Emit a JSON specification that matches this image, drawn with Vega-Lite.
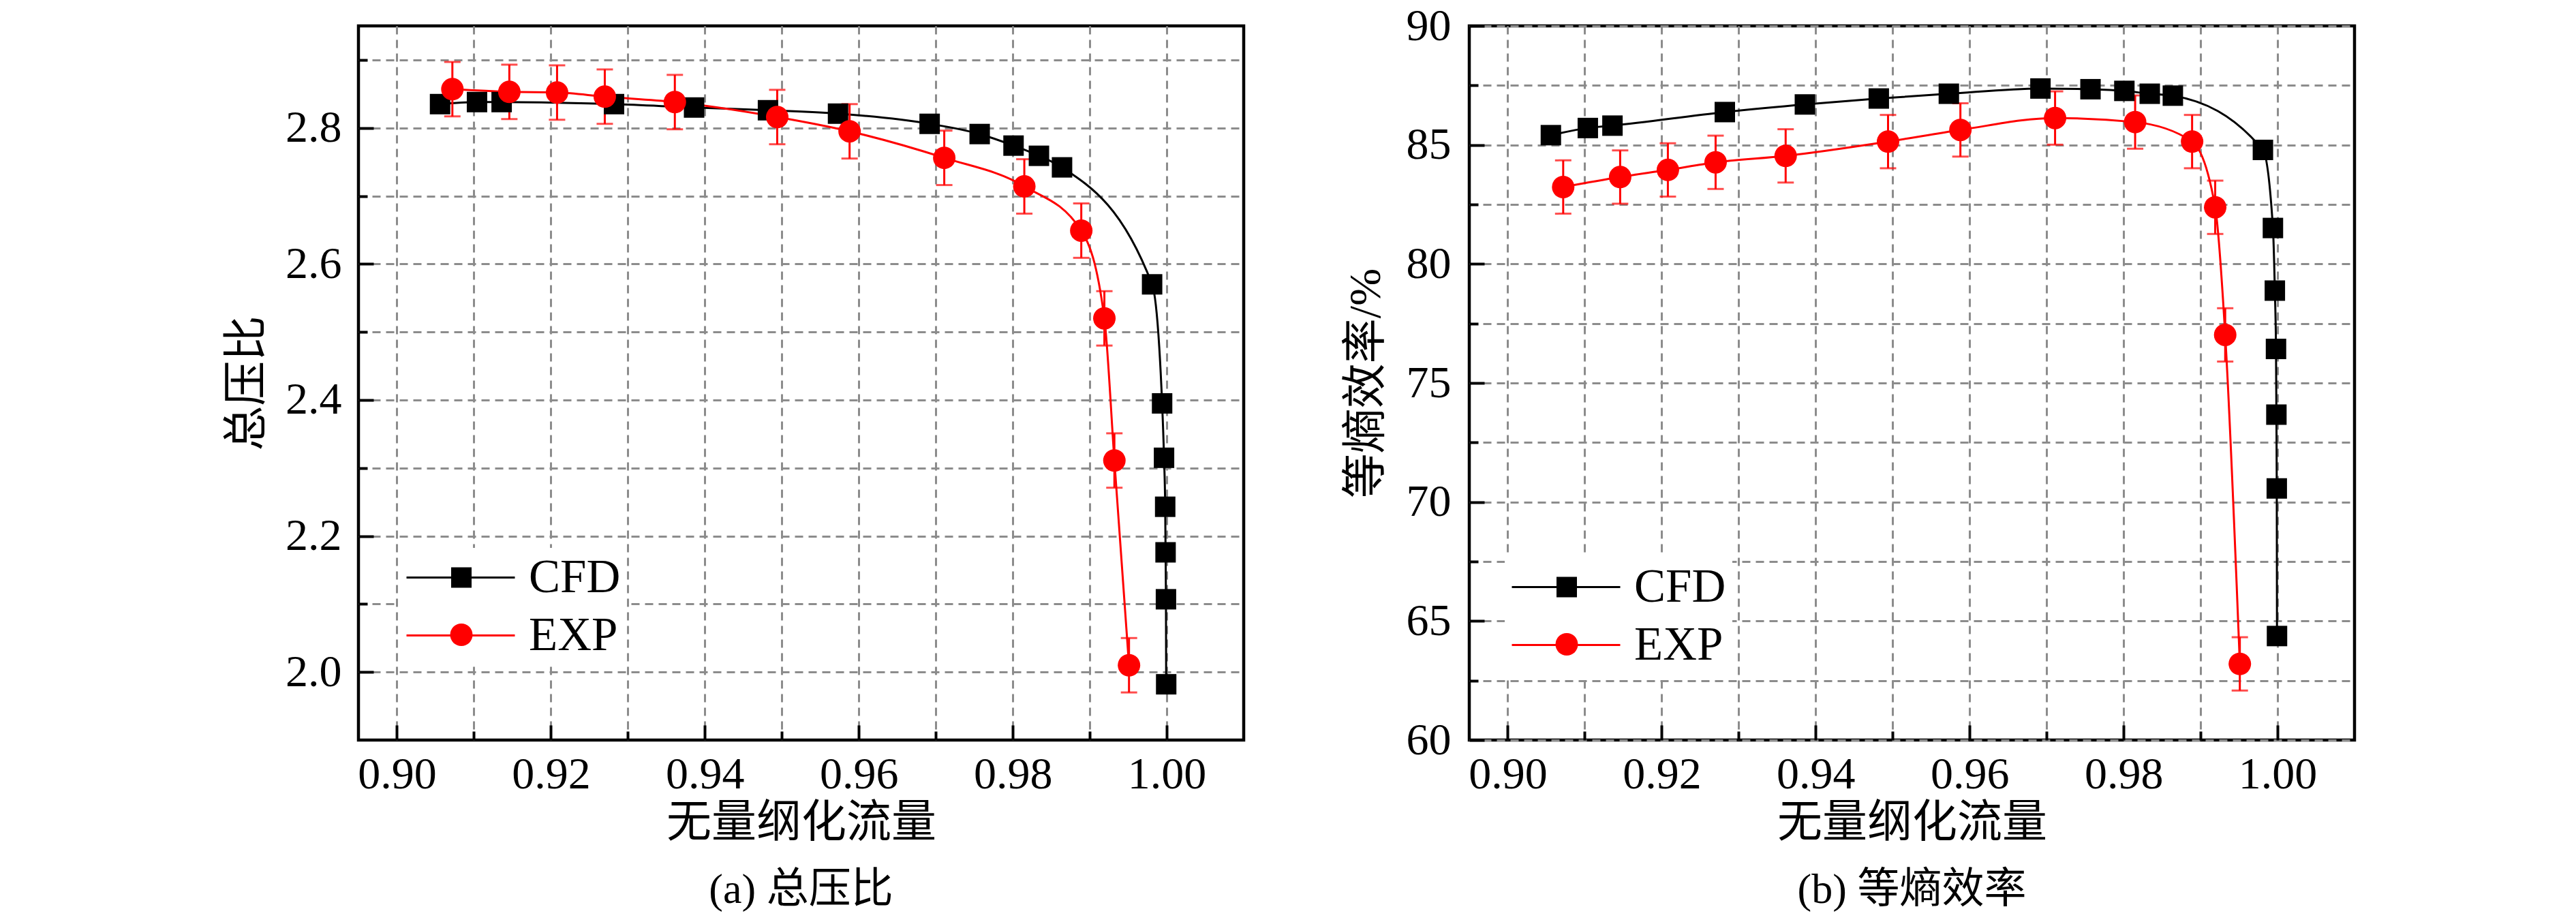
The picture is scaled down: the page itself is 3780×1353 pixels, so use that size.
{
  "$schema": "https://vega.github.io/schema/vega-lite/v6.json",
  "background": "white",
  "padding": {"left": 326, "top": 2, "right": 0, "bottom": 0},
  "datasets": {
    "pr": [
      {"s": "CFD", "m": 0.9056, "v": 2.835},
      {"s": "CFD", "m": 0.9104, "v": 2.838},
      {"s": "CFD", "m": 0.9136, "v": 2.838},
      {"s": "CFD", "m": 0.9282, "v": 2.835},
      {"s": "CFD", "m": 0.9386, "v": 2.830},
      {"s": "CFD", "m": 0.9482, "v": 2.826},
      {"s": "CFD", "m": 0.9573, "v": 2.821},
      {"s": "CFD", "m": 0.9692, "v": 2.806},
      {"s": "CFD", "m": 0.9757, "v": 2.791},
      {"s": "CFD", "m": 0.9801, "v": 2.774},
      {"s": "CFD", "m": 0.9834, "v": 2.759},
      {"s": "CFD", "m": 0.9864, "v": 2.742},
      {"s": "CFD", "m": 0.9981, "v": 2.570},
      {"s": "CFD", "m": 0.9994, "v": 2.395},
      {"s": "CFD", "m": 0.99965, "v": 2.315},
      {"s": "CFD", "m": 0.9998, "v": 2.243},
      {"s": "CFD", "m": 0.99985, "v": 2.176},
      {"s": "CFD", "m": 0.9999, "v": 2.107},
      {"s": "CFD", "m": 0.99993, "v": 1.982},
      {"s": "EXP", "m": 0.9072, "v": 2.857, "lo": 2.817, "hi": 2.897},
      {"s": "EXP", "m": 0.9146, "v": 2.853, "lo": 2.813, "hi": 2.893},
      {"s": "EXP", "m": 0.9208, "v": 2.852, "lo": 2.812, "hi": 2.892},
      {"s": "EXP", "m": 0.9270, "v": 2.846, "lo": 2.806, "hi": 2.886},
      {"s": "EXP", "m": 0.9361, "v": 2.838, "lo": 2.798, "hi": 2.878},
      {"s": "EXP", "m": 0.9494, "v": 2.816, "lo": 2.776, "hi": 2.856},
      {"s": "EXP", "m": 0.9588, "v": 2.795, "lo": 2.755, "hi": 2.835},
      {"s": "EXP", "m": 0.9711, "v": 2.756, "lo": 2.716, "hi": 2.796},
      {"s": "EXP", "m": 0.9815, "v": 2.714, "lo": 2.674, "hi": 2.754},
      {"s": "EXP", "m": 0.9889, "v": 2.649, "lo": 2.609, "hi": 2.689},
      {"s": "EXP", "m": 0.9919, "v": 2.520, "lo": 2.480, "hi": 2.560},
      {"s": "EXP", "m": 0.9932, "v": 2.311, "lo": 2.271, "hi": 2.351},
      {"s": "EXP", "m": 0.9951, "v": 2.010, "lo": 1.970, "hi": 2.050}
    ],
    "eff": [
      {"s": "CFD", "m": 0.9056, "v": 85.41},
      {"s": "CFD", "m": 0.9104, "v": 85.71},
      {"s": "CFD", "m": 0.9136, "v": 85.81},
      {"s": "CFD", "m": 0.9282, "v": 86.38},
      {"s": "CFD", "m": 0.9386, "v": 86.70},
      {"s": "CFD", "m": 0.9482, "v": 86.95},
      {"s": "CFD", "m": 0.9573, "v": 87.15},
      {"s": "CFD", "m": 0.9692, "v": 87.37},
      {"s": "CFD", "m": 0.9757, "v": 87.34},
      {"s": "CFD", "m": 0.9801, "v": 87.27},
      {"s": "CFD", "m": 0.9834, "v": 87.15},
      {"s": "CFD", "m": 0.9864, "v": 87.07},
      {"s": "CFD", "m": 0.9981, "v": 84.79},
      {"s": "CFD", "m": 0.9994, "v": 81.51},
      {"s": "CFD", "m": 0.99965, "v": 78.88},
      {"s": "CFD", "m": 0.9998, "v": 76.43},
      {"s": "CFD", "m": 0.99985, "v": 73.67},
      {"s": "CFD", "m": 0.9999, "v": 70.57},
      {"s": "CFD", "m": 0.99993, "v": 64.37},
      {"s": "EXP", "m": 0.9072, "v": 83.23, "lo": 82.11, "hi": 84.35},
      {"s": "EXP", "m": 0.9146, "v": 83.65, "lo": 82.53, "hi": 84.77},
      {"s": "EXP", "m": 0.9208, "v": 83.95, "lo": 82.83, "hi": 85.07},
      {"s": "EXP", "m": 0.9270, "v": 84.27, "lo": 83.15, "hi": 85.39},
      {"s": "EXP", "m": 0.9361, "v": 84.54, "lo": 83.42, "hi": 85.66},
      {"s": "EXP", "m": 0.9494, "v": 85.14, "lo": 84.02, "hi": 86.26},
      {"s": "EXP", "m": 0.9588, "v": 85.63, "lo": 84.51, "hi": 86.75},
      {"s": "EXP", "m": 0.9711, "v": 86.13, "lo": 85.01, "hi": 87.25},
      {"s": "EXP", "m": 0.9815, "v": 85.96, "lo": 84.84, "hi": 87.08},
      {"s": "EXP", "m": 0.9889, "v": 85.14, "lo": 84.02, "hi": 86.26},
      {"s": "EXP", "m": 0.9919, "v": 82.38, "lo": 81.26, "hi": 83.50},
      {"s": "EXP", "m": 0.9932, "v": 77.02, "lo": 75.90, "hi": 78.14},
      {"s": "EXP", "m": 0.9951, "v": 63.20, "lo": 62.08, "hi": 64.32}
    ]
  },
  "config": {
    "font": "Liberation Serif, Noto Sans CJK SC",
    "view": {"stroke": "#000", "strokeWidth": 4.5},
    "axis": {
      "grid": true,
      "gridColor": "#8c8c8c",
      "gridDash": [12, 8],
      "gridWidth": 3,
      "domain": false,
      "tickColor": "#000",
      "tickWidth": 4,
      "labelFont": "Liberation Serif",
      "labelFontSize": 66,
      "labelColor": "#000",
      "labelOverlap": false,
      "labelFlush": false,
      "titleFont": "Liberation Serif, Noto Sans CJK SC",
      "titleFontSize": 66,
      "titleFontWeight": "normal",
      "titleColor": "#000"
    },
    "legend": {
      "orient": "none",
      "symbolStrokeWidth": 3,
      "symbolOpacity": 1,
      "clipHeight": 69,
      "rowPadding": 15,
      "padding": 9,
      "labelFont": "Liberation Serif",
      "labelFontSize": 69,
      "labelColor": "#000",
      "labelOffset": 19
    },
    "title": {"font": "Liberation Serif, Noto Sans CJK SC", "fontWeight": "normal", "color": "#000"}
  },
  "hconcat": [
    {
      "width": 1299,
      "height": 1048,
      "title": {"text": "(a) 总压比", "orient": "bottom", "anchor": "middle", "frame": "group", "fontSize": 62, "baseline": "alphabetic", "offset": 85},
      "data": {"name": "pr"},
      "layer": [
        {
          "mark": {"type": "line", "interpolate": "monotone", "strokeWidth": 3},
          "encoding": {
            "x": {
              "field": "m", "type": "quantitative", "title": "无量纲化流量",
              "scale": {"domain": [0.895, 1.01], "nice": false, "zero": false},
              "axis": {
                "values": [0.9, 0.91, 0.92, 0.93, 0.94, 0.95, 0.96, 0.97, 0.98, 0.99, 1.0],
                "tickSize": {"expr": "round(datum.value * 100) % 2 == 0 ? -22 : -13"},
                "labelExpr": "round(datum.value * 100) % 2 == 0 ? format(datum.value, '.2f') : ''",
                "labelPadding": 40,
                "titleY": 141,
                "titleBaseline": "alphabetic"
              }
            },
            "y": {
              "field": "v", "type": "quantitative", "title": "总压比",
              "scale": {"domain": [1.9, 2.95], "nice": false, "zero": false},
              "axis": {
                "values": [2.0, 2.1, 2.2, 2.3, 2.4, 2.5, 2.6, 2.7, 2.8, 2.9],
                "tickSize": {"expr": "round(datum.value * 10) % 2 == 0 ? -22 : -13"},
                "labelExpr": "round(datum.value * 10) % 2 == 0 ? format(datum.value, '.1f') : ''",
                "labelPadding": 47,
                "titleX": -164,
                "titleBaseline": "middle"
              }
            },
            "color": {
              "field": "s", "type": "nominal",
              "scale": {"domain": ["CFD", "EXP"], "range": ["#000000", "#ff0000"]},
              "legend": {"title": null, "symbolType": "stroke", "symbolSize": 25281, "fillColor": "#ffffff", "legendX": 60, "legendY": 766, "zindex": 1}
            }
          }
        },
        {
          "transform": [{"filter": "datum.s === 'EXP'"}],
          "mark": {"type": "errorbar", "color": "#ff0000", "ticks": {"size": 24, "thickness": 3}, "rule": {"strokeWidth": 3}},
          "encoding": {
            "x": {"field": "m", "type": "quantitative", "title": "无量纲化流量"},
            "y": {"field": "lo", "type": "quantitative", "title": "总压比"},
            "y2": {"field": "hi"}
          }
        },
        {
          "mark": {"type": "point", "filled": true, "opacity": 1, "strokeWidth": 0},
          "encoding": {
            "x": {"field": "m", "type": "quantitative", "title": "无量纲化流量"},
            "y": {"field": "v", "type": "quantitative", "title": "总压比"},
            "fill": {
              "field": "s", "type": "nominal",
              "scale": {"range": ["#000000", "#ff0000"]},
              "legend": {
                "title": null, "fillColor": "transparent", "labelOpacity": 0, "labelFontSize": 1, "labelExpr": "''",
                "legendX": 124, "legendY": 766, "zindex": 2
              }
            },
            "shape": {"field": "s", "type": "nominal", "scale": {"range": ["square", "circle"]}, "legend": {"title": null, "legendX": 124, "legendY": 766}},
            "size": {"field": "s", "type": "nominal", "scale": {"range": [900, 1089]}, "legend": {"title": null, "legendX": 124, "legendY": 766}}
          }
        }
      ]
    },
    {
      "width": 1299,
      "height": 1048,
      "title": {"text": "(b) 等熵效率", "orient": "bottom", "anchor": "middle", "frame": "group", "fontSize": 62, "baseline": "alphabetic", "offset": 85},
      "data": {"name": "eff"},
      "layer": [
        {
          "mark": {"type": "line", "interpolate": "monotone", "strokeWidth": 3},
          "encoding": {
            "x": {
              "field": "m", "type": "quantitative", "title": "无量纲化流量",
              "scale": {"domain": [0.895, 1.01], "nice": false, "zero": false},
              "axis": {
                "values": [0.9, 0.91, 0.92, 0.93, 0.94, 0.95, 0.96, 0.97, 0.98, 0.99, 1.0],
                "tickSize": {"expr": "round(datum.value * 100) % 2 == 0 ? -22 : -13"},
                "labelExpr": "round(datum.value * 100) % 2 == 0 ? format(datum.value, '.2f') : ''",
                "labelPadding": 40,
                "titleY": 141,
                "titleBaseline": "alphabetic"
              }
            },
            "y": {
              "field": "v", "type": "quantitative", "title": "等熵效率/%",
              "scale": {"domain": [60, 90], "nice": false, "zero": false},
              "axis": {
                "values": [60, 62.5, 65, 67.5, 70, 72.5, 75, 77.5, 80, 82.5, 85, 87.5, 90],
                "tickSize": {"expr": "datum.value % 5 == 0 ? -22 : -13"},
                "labelExpr": "datum.value % 5 == 0 ? format(datum.value, 'd') : ''",
                "labelPadding": 49,
                "titleX": -152,
                "titleBaseline": "middle"
              }
            },
            "color": {
              "field": "s", "type": "nominal",
              "scale": {"domain": ["CFD", "EXP"], "range": ["#000000", "#ff0000"]},
              "legend": {"title": null, "symbolType": "stroke", "symbolSize": 25281, "fillColor": "#ffffff", "legendX": 52, "legendY": 780, "zindex": 1}
            }
          }
        },
        {
          "transform": [{"filter": "datum.s === 'EXP'"}],
          "mark": {"type": "errorbar", "color": "#ff0000", "ticks": {"size": 24, "thickness": 3}, "rule": {"strokeWidth": 3}},
          "encoding": {
            "x": {"field": "m", "type": "quantitative", "title": "无量纲化流量"},
            "y": {"field": "lo", "type": "quantitative", "title": "等熵效率/%"},
            "y2": {"field": "hi"}
          }
        },
        {
          "mark": {"type": "point", "filled": true, "opacity": 1, "strokeWidth": 0},
          "encoding": {
            "x": {"field": "m", "type": "quantitative", "title": "无量纲化流量"},
            "y": {"field": "v", "type": "quantitative", "title": "等熵效率/%"},
            "fill": {
              "field": "s", "type": "nominal",
              "scale": {"range": ["#000000", "#ff0000"]},
              "legend": {
                "title": null, "fillColor": "transparent", "labelOpacity": 0, "labelFontSize": 1, "labelExpr": "''",
                "legendX": 116, "legendY": 780, "zindex": 2
              }
            },
            "shape": {"field": "s", "type": "nominal", "scale": {"range": ["square", "circle"]}, "legend": {"title": null, "legendX": 116, "legendY": 780}},
            "size": {"field": "s", "type": "nominal", "scale": {"range": [900, 1089]}, "legend": {"title": null, "legendX": 116, "legendY": 780}}
          }
        }
      ]
    }
  ],
  "spacing": 331,
  "bounds": "flush",
  "resolve": {"scale": {"x": "independent", "y": "independent", "color": "independent", "fill": "independent", "shape": "independent", "size": "independent"}}
}
